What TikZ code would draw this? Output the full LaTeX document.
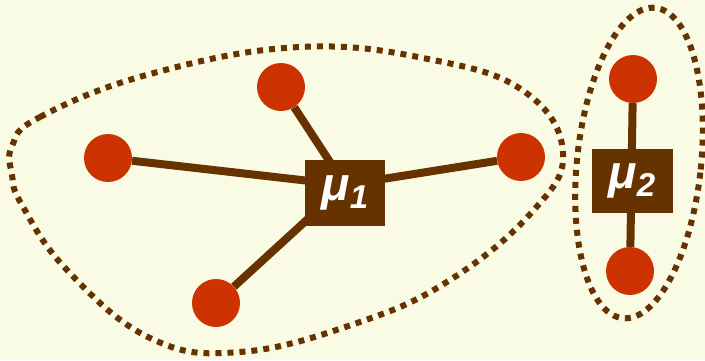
\documentclass[tikz,border=0pt]{standalone}
\usepackage{fontspec}
\setmainfont{Liberation Sans}
\usepackage{tikz}
\usetikzlibrary{positioning}

\definecolor{paper}{HTML}{F9FBE4}
\definecolor{leaf}{HTML}{CC3300}
\definecolor{hubbrown}{HTML}{663300}

\newcommand{\mulabel}[1]{\bfseries\itshape\fontsize{47}{47}\selectfont μ\raisebox{-0.16em}{\fontsize{33}{33}\selectfont #1}}

\begin{document}
\begin{tikzpicture}[x=1pt, y=-1pt,
  leafnode/.style={circle, fill=leaf, minimum size=48pt, inner sep=0pt},
  hubnode/.style={rectangle, fill=hubbrown, text=white, minimum width=80pt, minimum height=66pt, inner sep=0pt},
  spoke/.style={draw=hubbrown, line width=8pt},
  cluster/.style={draw=hubbrown, line width=6pt, dash pattern=on 6pt off 6pt}]
  \fill[paper] (0,0) rectangle (705,360);
  \useasboundingbox (0,0) rectangle (705,360);

  % clusters
  \draw[cluster] plot[smooth cycle, tension=0.7] coordinates {(12,146) (40,117) (150,74) (300,47) (433,60) (525,92) (563,153) (532,212) (450,280) (357,323) (240,352) (150,338) (67,270) (22,205) (12,175)};
  \draw[cluster, rotate around={-6:(639,163)}] (639,163) ellipse [x radius=62pt, y radius=156pt];

  \coordinate (hub1) at (345,185);
  \node[leafnode] (l1) at (108,158) {};
  \node[leafnode] (l2) at (281,87) {};
  \node[leafnode] (l3) at (521,157) {};
  \node[leafnode] (l4) at (216,303) {};
  \node[leafnode] (r1) at (633,79) {};
  \node[leafnode] (r2) at (630,271) {};

  \path[spoke]
  (l1) edge (hub1)
  (l2) edge (hub1)
  (l3) edge (hub1)
  (l4) edge (hub1)
  (r1) edge (r2)
  ;

  \node[hubnode] (mu1) at (345,193) {\mulabel{1}};
  \node[hubnode, minimum width=81pt, minimum height=64pt] (mu2) at (632,181) {\mulabel{2}};
\end{tikzpicture}
\end{document}
